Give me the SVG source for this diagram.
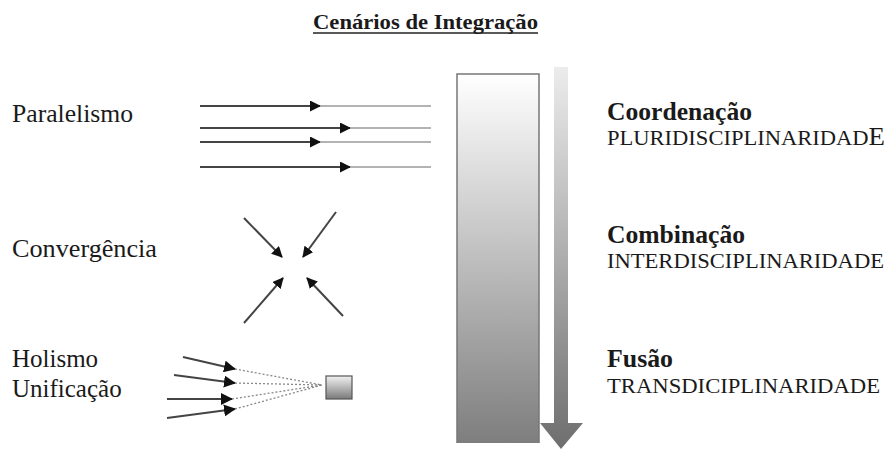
<svg xmlns="http://www.w3.org/2000/svg" width="888" height="449" viewBox="0 0 888 449">
<style>
.lbl{font-family:"Liberation Serif","Times New Roman",serif;fill:#1a1a1a;}
.reg{font-size:25px;}
.bold{font-size:25px;font-weight:bold;}
.caps{font-size:21px;}
.ln{stroke:#444;stroke-width:2;fill:none;}
.ln2{stroke:#9a9a9a;stroke-width:1.6;fill:none;}
.dot{stroke:#888;stroke-width:1.3;stroke-dasharray:2 2;fill:none;}
</style>
<defs>
<marker id="ah" markerWidth="11" markerHeight="11" refX="10" refY="5.5" orient="auto" markerUnits="userSpaceOnUse">
<path d="M0,0 L11,5.5 L0,11 Z" fill="#111"/>
</marker>
<marker id="ah2" markerWidth="12" markerHeight="12" refX="11" refY="6" orient="auto" markerUnits="userSpaceOnUse">
<path d="M0,0 L12,6 L0,12 Z" fill="#111"/>
</marker>
<linearGradient id="gBar" x1="0" y1="0" x2="0" y2="1">
<stop offset="0" stop-color="#ffffff"/>
<stop offset="1" stop-color="#7e7e7e"/>
</linearGradient>
<linearGradient id="gArr" x1="0" y1="0" x2="0" y2="1">
<stop offset="0" stop-color="#ececec"/>
<stop offset="1" stop-color="#6e6e6e"/>
</linearGradient>
<linearGradient id="gBox" x1="0" y1="0" x2="0" y2="1">
<stop offset="0" stop-color="#f2f2f2"/>
<stop offset="1" stop-color="#7a7a7a"/>
</linearGradient>
</defs>

<g id="title">
<text class="lbl" x="313" y="29" font-size="20" font-weight="bold" textLength="225" lengthAdjust="spacingAndGlyphs">Cenários de Integração</text>
<line x1="313" y1="33" x2="538" y2="33" stroke="#222" stroke-width="1.5"/>
</g>

<g id="labels-left">
<text class="lbl reg" x="12" y="122" textLength="121" lengthAdjust="spacingAndGlyphs">Paralelismo</text>
<text class="lbl reg" x="12" y="257" textLength="145" lengthAdjust="spacingAndGlyphs">Convergência</text>
<text class="lbl reg" x="12" y="367">Holismo</text>
<text class="lbl reg" x="12" y="397">Unificação</text>
</g>

<g id="bar">
<rect x="457" y="74" width="82" height="369" fill="url(#gBar)"/>
<path d="M457,443 L457,74 L539,74 L539,443" fill="none" stroke="#777" stroke-width="1.5"/>
</g>

<g id="progress-arrow">
<path d="M554,67 L568,67 L568,423 L583,423 L561,449 L540,423 L554,423 Z" fill="url(#gArr)"/>
</g>

<g id="labels-right">
<text class="lbl bold" x="607" y="120" textLength="145" lengthAdjust="spacingAndGlyphs">Coordenação</text>
<text class="lbl caps" x="607" y="145" textLength="278" lengthAdjust="spacingAndGlyphs">PLURIDISCIPLINARIDAD<tspan font-size="25">E</tspan></text>
<text class="lbl bold" x="607" y="243" textLength="138" lengthAdjust="spacingAndGlyphs">Combinação</text>
<text class="lbl caps" x="607" y="268" textLength="277" lengthAdjust="spacingAndGlyphs">INTERDISCIPLINARIDADE</text>
<text class="lbl bold" x="607" y="367" textLength="66" lengthAdjust="spacingAndGlyphs">Fusão</text>
<text class="lbl caps" x="607" y="393" textLength="273" lengthAdjust="spacingAndGlyphs">TRANSDICIPLINARIDADE</text>
</g>

<g id="box">
<rect x="326" y="376" width="26" height="23" fill="url(#gBox)" stroke="#555" stroke-width="1.2"/>
</g>

<g id="connectors">
<line class="ln" x1="200" y1="106" x2="320" y2="106" marker-end="url(#ah)"/>
<line class="ln2" x1="320" y1="106" x2="431" y2="106"/>
<line class="ln" x1="200" y1="128" x2="350" y2="128" marker-end="url(#ah)"/>
<line class="ln2" x1="350" y1="128" x2="431" y2="128"/>
<line class="ln" x1="200" y1="142" x2="320" y2="142" marker-end="url(#ah)"/>
<line class="ln2" x1="320" y1="142" x2="431" y2="142"/>
<line class="ln" x1="200" y1="167" x2="350" y2="167" marker-end="url(#ah)"/>
<line class="ln2" x1="350" y1="167" x2="431" y2="167"/>

<line class="ln" x1="244" y1="218" x2="282" y2="257" marker-end="url(#ah)"/>
<line class="ln" x1="336" y1="212" x2="303" y2="257" marker-end="url(#ah)"/>
<line class="ln" x1="244" y1="323" x2="283" y2="278" marker-end="url(#ah)"/>
<line class="ln" x1="343" y1="316" x2="307" y2="278" marker-end="url(#ah)"/>

<line class="ln" x1="183" y1="357" x2="235" y2="369" marker-end="url(#ah2)"/>
<line class="ln" x1="174" y1="375" x2="235" y2="383" marker-end="url(#ah2)"/>
<line class="ln" x1="167" y1="399" x2="232" y2="399" marker-end="url(#ah2)"/>
<line class="ln" x1="167" y1="418" x2="235" y2="409" marker-end="url(#ah2)"/>
<line class="dot" x1="235" y1="369" x2="322" y2="385"/>
<line class="dot" x1="235" y1="383" x2="322" y2="385"/>
<line class="dot" x1="232" y1="399" x2="322" y2="385"/>
<line class="dot" x1="235" y1="409" x2="322" y2="385"/>
</g>
</svg>
